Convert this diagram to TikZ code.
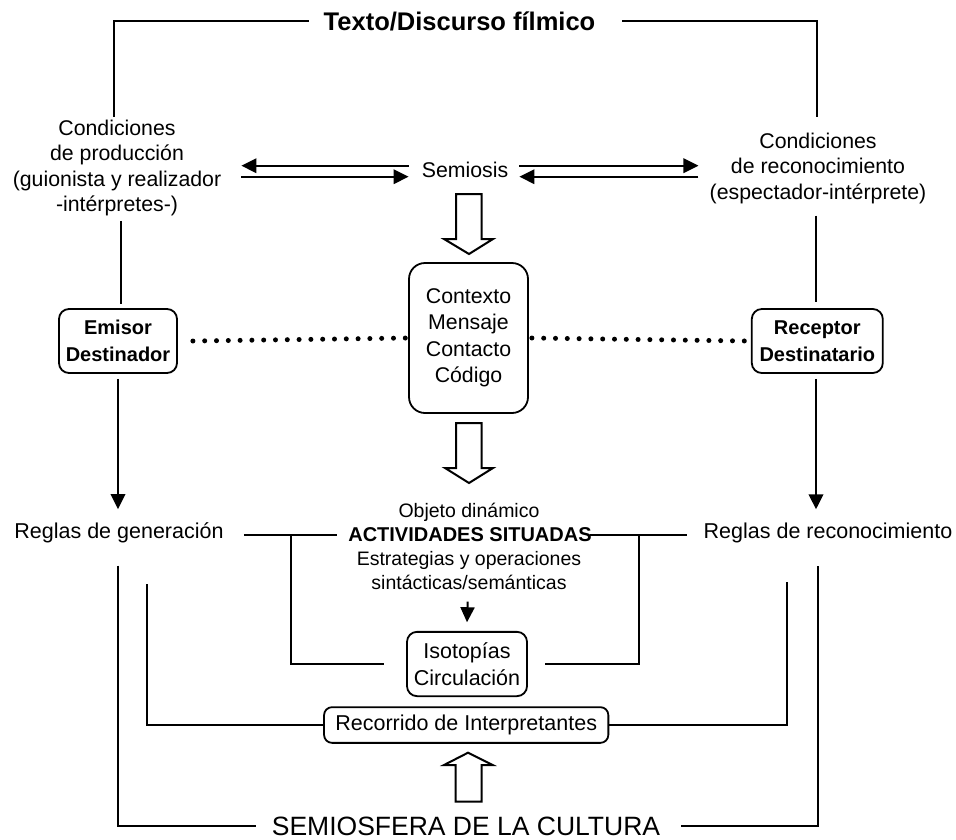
\documentclass[tikz,border=0pt]{standalone}
\usepackage{fontspec}
\setmainfont{Liberation Sans}
\usetikzlibrary{arrows.meta,calc}
\begin{document}
\begin{tikzpicture}[x=1pt,y=-1pt,
  every node/.style={inner sep=0pt, align=center},
  txt/.style={font=\fontsize{21.3}{25.5}\selectfont},
  midtxt/.style={font=\fontsize{19.5}{23}\selectfont},
  box/.style={draw, line width=1.8pt, rounded corners=#1, fill=white},
  box/.default=10pt,
  conn/.style={line width=2pt},
  arr/.style={conn, -{Triangle[length=15pt,width=14.5pt]}},
  hollow/.style={draw, line width=2pt, fill=white, line join=miter},
  dots/.style={line width=5pt, line cap=round, dash pattern=on 0pt off 11.8pt}]

\fill[white] (0,0) rectangle (956,839);
\useasboundingbox (0,0) rectangle (956,839);

% ---------- text and boxes ----------
\node[font=\bfseries\fontsize{25.5}{28}\selectfont] (title) at (459.5,21) {Texto/Discurso fílmico};

\node[txt] (prod) at (117,168) {Condiciones\\de producción\\(guionista y realizador\\-intérpretes-)};
\node[txt] (recon) at (818,168) {Condiciones\\de reconocimiento\\(espectador-intérprete)};
\node[txt] (semiosis) at (465,170) {Semiosis};

\node[box=16pt, minimum width=119pt, minimum height=150pt,
      font=\fontsize{21.3}{26.5}\selectfont] (ctx) at (468.5,338)
      {Contexto\\Mensaje\\Contacto\\Código};

\node[box, minimum width=118pt, minimum height=64pt,
      font=\bfseries\fontsize{20}{26.5}\selectfont] (emisor) at (118,341) {Emisor\\Destinador};
\node[box, minimum width=131pt, minimum height=64pt,
      font=\bfseries\fontsize{20}{26.5}\selectfont] (receptor) at (817.3,341) {Receptor\\Destinatario};

\node[font=\fontsize{21.5}{25}\selectfont] (rgen) at (119,533) {Reglas de generación};
\node[font=\fontsize{21.5}{25}\selectfont] (rrec) at (828,533) {Reglas de reconocimiento};

\node[midtxt] (objeto) at (469,512) {Objeto dinámico};
\node[font=\bfseries\fontsize{20}{23}\selectfont] (activ) at (470,535) {ACTIVIDADES SITUADAS};
\node[midtxt] (estrat) at (469,560) {Estrategias y operaciones};
\node[midtxt] (sint) at (469,582) {sintácticas/semánticas};

\node[box, minimum width=120pt, minimum height=64.3pt,
      font=\fontsize{21.5}{27}\selectfont] (iso) at (467,664) {Isotopías\\Circulación};
\node[box=8pt, minimum width=284.3pt, minimum height=35.7pt,
      font=\fontsize{21.5}{25}\selectfont] (recorr) at (466.2,725) {Recorrido de Interpretantes};

\node[font=\fontsize{26.5}{30}\selectfont] (semiosfera) at (466,826) {SEMIOSFERA DE LA CULTURA};

% ---------- bend points of the frame ----------
\coordinate (tl) at (114.3,116.7);
\coordinate (tr) at (816.7,116.7);
\coordinate (lb) at (118.3,565.7);
\coordinate (rb) at (817.7,565.7);
\coordinate (lr) at (146.7,584);
\coordinate (rr) at (786.7,581.7);
\coordinate (lbr) at (291,535);
\coordinate (rbr) at (638.7,535);

% ---------- top frame ----------
\draw[conn] ([xshift=-15pt]title.west) -| (tl);
\draw[conn] ([xshift=27pt]title.east) -| (tr);

% ---------- semiosis exchange arrows ----------
\draw[arr] ([xshift=-13pt,yshift=4.3pt]semiosis.west) -- ([xshift=20pt,yshift=4.3pt]semiosis.west -| prod.east);
\draw[arr] ([xshift=20pt,yshift=-6.7pt]semiosis.west -| prod.east) -- ([xshift=-13pt,yshift=-6.7pt]semiosis.west);
\draw[arr] ([xshift=11pt,yshift=4.3pt]semiosis.east) -- ([xshift=-11pt,yshift=4.3pt]semiosis.east -| recon.west);
\draw[arr] ([xshift=-11pt,yshift=-6.7pt]semiosis.east -| recon.west) -- ([xshift=11pt,yshift=-6.7pt]semiosis.east);

% ---------- vertical links to sender / receiver ----------
\draw[conn] ([xshift=4pt,yshift=-4.5pt]prod.south) -- ([xshift=3pt,yshift=4pt]emisor.north);
\draw[conn] ([xshift=-2pt,yshift=-12pt]recon.south) -- ([xshift=-1.3pt,yshift=6pt]receptor.north);

\draw[arr] ([yshift=-5pt]emisor.south) -- ([yshift=13.5pt]emisor.south |- rgen.north);
\draw[arr] ([xshift=-1.3pt,yshift=-5pt]receptor.south) -- ([xshift=-1.3pt,yshift=13.5pt]receptor.south |- rrec.north);

% ---------- dotted channel ----------
\draw[dots] ([xshift=15pt]emisor.east) -- (ctx.west);
\draw[dots] ([xshift=3pt]ctx.east) -- ([xshift=-4pt]receptor.west);

% ---------- hollow arrows ----------
\draw[hollow] (456,194) -- (481.7,194) -- (481.7,239) -- (493,239) -- (469,254)
  -- (444,239) -- (456,239) -- cycle;
\draw[hollow] (456,423) -- (481.7,423) -- (481.7,468) -- (493,468) -- (469,483)
  -- (445,468) -- (456,468) -- cycle;
\draw[hollow] (455.7,801.7) -- (481.7,801.7) -- (481.7,765) -- (492.7,765) -- (468,752.7)
  -- (444,765) -- (455.7,765) -- cycle;

% ---------- rules and situated activities ----------
\draw[conn] ([xshift=20pt]rgen.east |- activ) -- ([xshift=-11pt]activ.west);
\draw[conn] (lbr) |- ([xshift=-22pt]iso.west);
\draw[conn] ([xshift=-2pt]activ.east) -- ([xshift=-17pt]rrec.west |- activ);
\draw[conn] (rbr) |- ([xshift=17pt]iso.east);

\draw[conn, -{Triangle[length=15pt,width=14pt]}] (467.7,601.7) -- ([yshift=8.7pt]iso.north);

% ---------- interpretants ----------
\draw[conn] (lr) |- (recorr.west);
\draw[conn] (recorr.east) -| (rr);

% ---------- semiosphere ----------
\draw[conn] (lb) |- ([xshift=-16pt]semiosfera.west);
\draw[conn] ([xshift=21pt]semiosfera.east) -| (rb);
\end{tikzpicture}
\end{document}
